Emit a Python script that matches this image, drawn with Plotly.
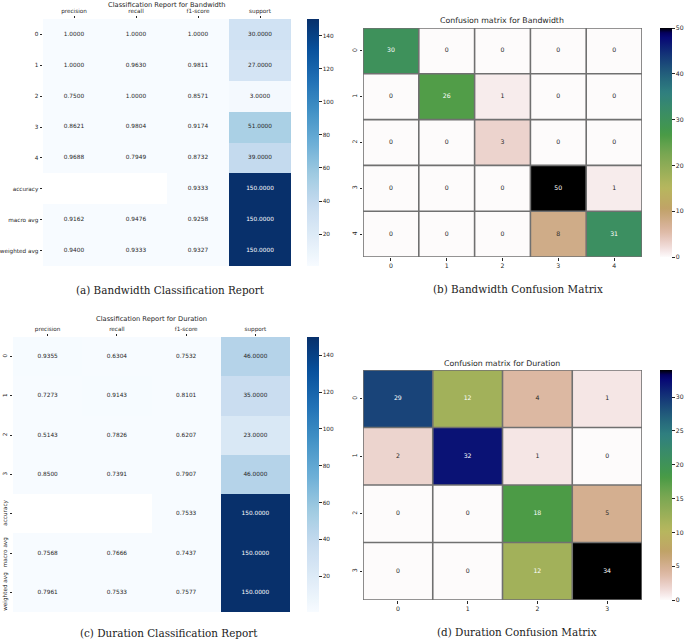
import numpy as np
import plotly.graph_objects as go

W, H = 685, 639

# ---------------- data ----------------
bw_classes = ["0", "1", "2", "3", "4"]
bw_cm = [[30, 0, 0, 0, 0],
         [0, 26, 1, 0, 0],
         [0, 0, 3, 0, 0],
         [0, 0, 0, 50, 1],
         [0, 0, 0, 8, 31]]
du_classes = ["0", "1", "2", "3"]
du_cm = [[29, 12, 4, 1],
         [2, 32, 1, 0],
         [0, 0, 18, 5],
         [0, 0, 12, 34]]

report_cols = ["precision", "recall", "f1-score", "support"]
bw_rows = ["0", "1", "2", "3", "4", "accuracy", "macro avg", "weighted avg"]
bw_precision = [1.0, 1.0, 0.75, 0.8621, 0.9688, None, 0.9162, 0.9400]
bw_recall = [1.0, 0.9630, 1.0, 0.9804, 0.7949, None, 0.9476, 0.9333]
bw_f1 = [1.0, 0.9811, 0.8571, 0.9174, 0.8732, 0.9333, 0.9258, 0.9327]
bw_support = [30, 27, 3, 51, 39, 150, 150, 150]
du_rows = ["0", "1", "2", "3", "accuracy", "macro avg", "weighted avg"]
du_precision = [0.9355, 0.7273, 0.5143, 0.8500, None, 0.7568, 0.7961]
du_recall = [0.6304, 0.9143, 0.7826, 0.7391, None, 0.7666, 0.7533]
du_f1 = [0.7532, 0.8101, 0.6207, 0.7907, 0.7533, 0.7437, 0.7577]
du_support = [46, 35, 23, 46, 150, 150, 150]

# ---------------- colormaps ----------------
GE_R = [(0.0, 0.0), (0.2824, 0.1882), (0.4588, 0.2714), (0.5490, 0.4719),
        (0.6980, 0.7176), (0.7882, 0.7553), (1.0, 0.9922)]
GE_G = [(0.0, 0.0), (0.0275, 0.0), (0.1098, 0.1893), (0.1647, 0.3035),
        (0.2078, 0.3841), (0.2824, 0.5020), (0.5216, 0.6397), (0.6980, 0.7171),
        (0.7882, 0.6392), (0.7922, 0.6413), (0.8000, 0.6447), (0.8078, 0.6481),
        (0.8157, 0.6549), (0.8667, 0.6991), (0.8745, 0.7103), (0.8824, 0.7216),
        (0.8902, 0.7323), (0.8980, 0.7430), (0.9412, 0.8275), (0.9569, 0.8635),
        (0.9647, 0.8816), (0.9961, 0.9733), (1.0, 0.9843)]
GE_B = [(0.0, 0.0), (0.0039, 0.1684), (0.0078, 0.2212), (0.0275, 0.4329),
        (0.0314, 0.4549), (0.2824, 0.5004), (0.4667, 0.2748), (0.5451, 0.3205),
        (0.7843, 0.3961), (0.8941, 0.6651), (1.0, 0.9843)]


def seg(data, t):
    xs, ys = zip(*data)
    return float(np.interp(t, xs, ys))


def gist_earth_r(v):
    t = 1.0 - v
    return (seg(GE_R, t), seg(GE_G, t), seg(GE_B, t))


BLUES = ["#f7fbff", "#deebf7", "#c6dbef", "#9ecae1", "#6baed6",
         "#4292c6", "#2171b5", "#08519c", "#08306b"]
BL = [tuple(int(h[i:i + 2], 16) / 255 for i in (1, 3, 5)) for h in BLUES]


def blues(v):
    xs = np.linspace(0, 1, len(BL))
    return tuple(float(np.interp(v, xs, [c[k] for c in BL])) for k in range(3))


def to_css(c):
    return "rgb(%d,%d,%d)" % tuple(round(x * 255) for x in c)


def make_scale(fn, n=48):
    return [[i / (n - 1), to_css(fn(i / (n - 1)))] for i in range(n)]


def lum(c):
    lin = [x / 12.92 if x <= 0.03928 else ((x + 0.055) / 1.055) ** 2.4 for x in c]
    return 0.2126 * lin[0] + 0.7152 * lin[1] + 0.0722 * lin[2]


def text_color(fn, v, vmin, vmax):
    t = (v - vmin) / (vmax - vmin)
    return "#262626" if lum(fn(t)) > 0.408 else "white"


FONT = "DejaVu Sans"
DARK = "#262626"

fig = go.Figure()


def px_x(p):
    return p / W


def px_y(p):
    return 1 - p / H


def add_report(rows, cols, z, xa, ya, left, right, top, bottom, cbx):
    vals = [v for r in z for v in r if v is not None]
    vmin, vmax = min(vals), max(vals)
    fig.add_trace(go.Heatmap(
        z=z, x=cols, y=rows, colorscale=make_scale(blues), zmin=vmin, zmax=vmax,
        xaxis=xa, yaxis=ya, hoverongaps=False,
        colorbar=dict(x=px_x(cbx), xanchor="left", y=px_y(bottom), yanchor="bottom",
                      len=(bottom - top) / H, lenmode="fraction", thickness=12,
                      xpad=0, ypad=0, outlinewidth=0, ticks="outside", ticklen=3,
                      tickcolor=DARK, tickvals=list(range(20, 141, 20)),
                      tickfont=dict(size=5.8, color=DARK, family=FONT))))
    tx, ty, tt, tc = [], [], [], []
    for i, r in enumerate(rows):
        for j, c in enumerate(cols):
            v = z[i][j]
            if v is None:
                continue
            tx.append(c); ty.append(r); tt.append("%.4f" % v)
            tc.append(text_color(blues, v, vmin, vmax))
    fig.add_trace(go.Scatter(x=tx, y=ty, text=tt, mode="text", xaxis=xa, yaxis=ya,
                             textfont=dict(size=5.8, color=tc, family=FONT),
                             showlegend=False, hoverinfo="skip"))


def add_cm(classes, cm, xa, ya, left, right, top, bottom, cbx, tickvals):
    vmin, vmax = 0, max(max(r) for r in cm)
    fig.add_trace(go.Heatmap(
        z=cm, x=classes, y=classes, colorscale=make_scale(gist_earth_r),
        zmin=vmin, zmax=vmax, xaxis=xa, yaxis=ya,
        colorbar=dict(x=px_x(cbx), xanchor="left", y=px_y(bottom), yanchor="bottom",
                      len=(bottom - top) / H, lenmode="fraction", thickness=12,
                      xpad=0, ypad=0, outlinewidth=0, ticks="outside", ticklen=3,
                      tickcolor=DARK, tickvals=tickvals,
                      tickfont=dict(size=6.2, color=DARK, family=FONT))))
    tx, ty, tt, tc = [], [], [], []
    for i, r in enumerate(classes):
        for j, c in enumerate(classes):
            v = cm[i][j]
            tx.append(c); ty.append(r); tt.append(str(v))
            tc.append(text_color(gist_earth_r, v, vmin, vmax))
    fig.add_trace(go.Scatter(x=tx, y=ty, text=tt, mode="text", xaxis=xa, yaxis=ya,
                             textfont=dict(size=6.2, color=tc, family=FONT),
                             showlegend=False, hoverinfo="skip"))
    n = len(classes)
    for k in range(n + 1):
        fig.add_shape(type="line", xref=xa, yref=ya, x0=k - 0.5, x1=k - 0.5,
                      y0=-0.5, y1=n - 0.5, line=dict(color="#707070", width=1.6))
        fig.add_shape(type="line", xref=xa, yref=ya, y0=k - 0.5, y1=k - 0.5,
                      x0=-0.5, x1=n - 0.5, line=dict(color="#707070", width=1.6))


bw_z = [list(r) for r in zip(bw_precision, bw_recall, bw_f1, bw_support)]
du_z = [list(r) for r in zip(du_precision, du_recall, du_f1, du_support)]

# panel geometry (pixels)
A = dict(left=43, right=291, top=19, bottom=266, cbx=307)
B = dict(left=363, right=642, top=28, bottom=257, cbx=660)
C = dict(left=13, right=290, top=337, bottom=612, cbx=307)
D = dict(left=363, right=642, top=370, bottom=600, cbx=660)

add_report(bw_rows, report_cols, bw_z, "x", "y", **A)
add_cm(bw_classes, bw_cm, "x2", "y2", tickvals=list(range(0, 51, 10)), **B)
add_report(du_rows, report_cols, du_z, "x3", "y3", **C)
add_cm(du_classes, du_cm, "x4", "y4", tickvals=list(range(0, 31, 5)), **D)


def xax(g, n, side, fs):
    return dict(domain=[px_x(g["left"]), px_x(g["right"])], side=side, type="category",
                range=[-0.5, n - 0.5], showgrid=False, zeroline=False, showline=False,
                ticks="outside", ticklen=2.5, tickcolor=DARK, fixedrange=True,
                tickfont=dict(size=fs, color=DARK, family=FONT))


def yax(g, n, angle, fs):
    return dict(domain=[px_y(g["bottom"]), px_y(g["top"])], type="category",
                range=[n - 0.5, -0.5], showgrid=False, zeroline=False, showline=False,
                ticks="outside", ticklen=2.5, tickcolor=DARK, tickangle=angle,
                fixedrange=True, tickfont=dict(size=fs, color=DARK, family=FONT))


fig.update_layout(
    width=W, height=H, margin=dict(l=0, r=0, t=0, b=0),
    paper_bgcolor="white", plot_bgcolor="white", showlegend=False,
    font=dict(family=FONT, color=DARK),
    xaxis=dict(xax(A, 4, "top", 5.7), anchor="y"),
    yaxis=dict(yax(A, 8, 0, 5.7), anchor="x"),
    xaxis2=dict(xax(B, 5, "bottom", 6.2), anchor="y2"),
    yaxis2=dict(yax(B, 5, -90, 6.2), anchor="x2"),
    xaxis3=dict(xax(C, 4, "top", 5.7), anchor="y3"),
    yaxis3=dict(yax(C, 7, -90, 5.7), anchor="x3"),
    xaxis4=dict(xax(D, 4, "bottom", 6.2), anchor="y4"),
    yaxis4=dict(yax(D, 4, -90, 6.2), anchor="x4"),
)

titles = [
    ("Classification Report for Bandwidth", 167, 5, 6.7),
    ("Confusion matrix for Bandwidth", 502, 20, 7.8),
    ("Classification Report for Duration", 151, 319, 6.7),
    ("Confusion matrix for Duration", 502, 363, 7.8),
]
for t, cx, cy, fs in titles:
    fig.add_annotation(text=t, x=px_x(cx), y=px_y(cy), xref="paper", yref="paper",
                       xanchor="center", yanchor="middle", showarrow=False,
                       font=dict(size=fs, color=DARK, family=FONT))

captions = [
    ("(a) Bandwidth Classification Report", 170, 290),
    ("(b) Bandwidth Confusion Matrix", 518, 289),
    ("(c) Duration Classification Report", 169, 633),
    ("(d) Duration Confusion Matrix", 517, 632),
]
for t, cx, cy in captions:
    fig.add_annotation(text=t, x=px_x(cx), y=px_y(cy), xref="paper", yref="paper",
                       xanchor="center", yanchor="middle", showarrow=False,
                       font=dict(size=10.4, color="#222", family="DejaVu Serif"))

fig.write_html("out.html", config={"displayModeBar": False},
               post_script="document.body.style.margin='0';")
